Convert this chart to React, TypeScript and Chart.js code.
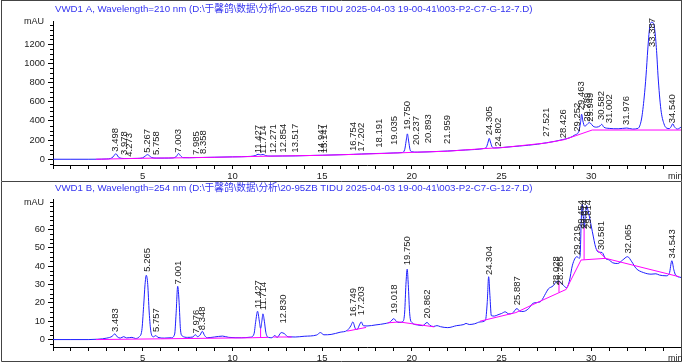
import React, { useEffect, useRef } from 'react';
import { Chart, registerables } from 'chart.js';

Chart.register(...registerables);

// ---------- DATA ----------
const titleA = 'VWD1 A, Wavelength=210 nm (D:\\于馨鸽\\数据\\分析\\20-95ZB TIDU 2025-04-03 19-00-41\\003-P2-C7-G-12-7.D)';
const titleB = 'VWD1 B, Wavelength=254 nm (D:\\于馨鸽\\数据\\分析\\20-95ZB TIDU 2025-04-03 19-00-41\\003-P2-C7-G-12-7.D)';

const xTickLabels = [5, 10, 15, 20, 25, 30];
const yTickLabelsA = [0, 200, 400, 600, 800, 1000, 1200];
const yTickLabelsB = [0, 10, 20, 30, 40, 50, 60];

// signal A (210 nm): [time min, mAU]
const traceA: [number, number][] = [
  [0, 0], [1, 0], [2, 0], [2.4, 0.5], [3.0, 3], [3.2, 8], [3.35, 25], [3.45, 50], [3.5, 58], [3.57, 45], [3.65, 22],
  [3.8, 10], [4.0, 8], [4.3, 8], [4.7, 9], [5.0, 15], [5.15, 35], [5.27, 48], [5.38, 35], [5.5, 18], [5.75, 12],
  [6.2, 12], [6.7, 14], [6.88, 30], [7.0, 60], [7.1, 38], [7.25, 17], [7.6, 16], [8.0, 18], [8.4, 19], [9, 21],
  [10, 25], [11, 30], [11.3, 40], [11.43, 52], [11.57, 46], [11.71, 50], [11.85, 38], [12.1, 33], [12.8, 34],
  [13.5, 35], [14.5, 40], [15, 42], [16, 47], [16.75, 51], [17.2, 55], [18, 60], [18.5, 62], [19.0, 66],
  [19.45, 70], [19.6, 100], [19.68, 190], [19.75, 265], [19.82, 190], [19.9, 100], [20.0, 78], [20.3, 74],
  [20.9, 77], [22, 86], [23, 97], [24, 112], [24.15, 125], [24.25, 180], [24.31, 218], [24.38, 180],
  [24.47, 130], [24.6, 118], [25, 122], [26, 138], [27, 157], [27.5, 172], [28, 188], [28.4, 205], [28.8, 225],
  [29.1, 255], [29.3, 290], [29.4, 380], [29.46, 470], [29.53, 400], [29.63, 345], [29.75, 360], [29.88, 382],
  [29.95, 378], [30.1, 345], [30.3, 335], [30.5, 350], [30.58, 365], [30.7, 335], [31.0, 322], [31.5, 318],
  [31.98, 326], [32.3, 315], [32.6, 322], [32.8, 420], [32.95, 650], [33.05, 870], [33.15, 1150], [33.25, 1370],
  [33.35, 1430], [33.45, 1425], [33.55, 1330], [33.65, 1100], [33.72, 870], [33.88, 520], [34.05, 370],
  [34.2, 325], [34.35, 320], [34.45, 340], [34.54, 370], [34.63, 340], [34.8, 315], [35, 335],
];

// integration baseline A (null = gap)
const baselineA: [number, number | null][] = [
  [2.4, 0], [5, 10], [8, 17], [10, 24], [12, 32], [15, 41], [18, 58], [19.5, 68], [20.2, 73], [22, 84],
  [24, 111], [25, 121], [27.5, 170], [28.5, 205], [29.2, 250], [30.05, 305], [35, 305],
];

const peakTimesA = [3.498, 3.978, 4.273, 5.267, 5.758, 7.003, 7.985, 8.358, 11.427, 11.714, 12.271, 12.854, 13.517,
  14.947, 15.141, 16.754, 17.202, 18.191, 19.035, 19.750, 20.237, 20.893, 21.959, 24.305, 24.802, 27.521, 28.426,
  29.252, 29.463, 29.789, 29.949, 30.582, 31.002, 31.976, 33.387, 34.540];
const peakHeightsA = [58, 24, 6, 48, 24, 48, 24, 34, 42, 35, 42, 48, 48,
  42, 42, 66, 58, 100, 128, 285, 128, 146, 138, 230, 110, 215, 198,
  267, 490, 371, 371, 389, 355, 337, 1432, 355];

// signal B (254 nm)
const traceB: [number, number][] = [
  [0, 0], [1, 0], [2, 0], [2.5, 0.2], [3.0, 0.8], [3.3, 1.8], [3.44, 3.1], [3.58, 1.5], [3.75, 0.8], [3.94, 1.6],
  [4.1, 0.9], [4.4, 1.2], [4.6, 0.6], [4.8, 1.5], [4.95, 5], [5.05, 18], [5.13, 30], [5.2, 35], [5.28, 30],
  [5.36, 15], [5.46, 4], [5.6, 1.5], [5.73, 2.2], [5.85, 1.2], [6.2, 0.8], [6.6, 1.0], [6.78, 3], [6.86, 14],
  [6.95, 29], [7.03, 20], [7.1, 6], [7.2, 2], [7.5, 1.2], [7.8, 1.4], [7.93, 2.7], [8.05, 1.6], [8.2, 2.5],
  [8.32, 4.5], [8.45, 2.2], [8.6, 1.0], [9.0, 1.4], [9.45, 1.9], [9.8, 1.2], [10.5, 1.0], [11.0, 1.3], [11.2, 3],
  [11.3, 10], [11.4, 15.4], [11.5, 10], [11.57, 6], [11.64, 10], [11.7, 14], [11.78, 10], [11.86, 4], [12.0, 1.2],
  [12.2, 1.0], [12.35, 2.2], [12.5, 1.2], [12.72, 3.8], [12.9, 3.2], [13.1, 1.5], [13.5, 1.4], [14.0, 1.8],
  [14.7, 2.5], [14.9, 3.8], [15.1, 2.6], [15.5, 2.8], [16.0, 4.0], [16.4, 5.0], [16.6, 7.5], [16.71, 9.6],
  [16.85, 6], [16.95, 5.5], [17.08, 8], [17.18, 9.6], [17.3, 7.5], [17.5, 7.4], [18.0, 8.0], [18.5, 8.7],
  [18.8, 9.6], [18.99, 11.4], [19.15, 9.8], [19.3, 9.3], [19.5, 9.8], [19.6, 15], [19.67, 30], [19.74, 38.3],
  [19.8, 30], [19.88, 14], [20.0, 9.3], [20.3, 8.0], [20.6, 7.6], [20.85, 9.3], [21.0, 7.8], [21.2, 7.1],
  [21.4, 7.6], [21.6, 7.0], [22.0, 6.5], [22.5, 7.6], [22.9, 8.2], [23.02, 8.8], [23.2, 8.2], [23.5, 8.6],
  [23.8, 9.6], [24.1, 10.5], [24.2, 20], [24.28, 34.2], [24.35, 24], [24.43, 13], [24.6, 12.8], [24.8, 13.5],
  [25.0, 14.2], [25.2, 15.1], [25.4, 14.0], [25.6, 14.3], [25.86, 16.9], [26.0, 15.5], [26.2, 15.3], [26.5, 16.8],
  [26.73, 19.6], [27.0, 20.2], [27.2, 20.9], [27.45, 25], [27.6, 27.5], [27.88, 29.3], [28.05, 31.5],
  [28.15, 31.8], [28.3, 31], [28.45, 29.5], [28.62, 28.2], [28.77, 31.5], [28.95, 40.5], [29.2, 45.1],
  [29.33, 44.2], [29.38, 46], [29.44, 65], [29.5, 73.5], [29.56, 66], [29.61, 61], [29.67, 68], [29.74, 73],
  [29.8, 71], [29.88, 67.6], [30.06, 58.7], [30.25, 50], [30.4, 47.6], [30.6, 47.4], [30.78, 44.2], [31.0, 43.3],
  [31.19, 41.8], [31.47, 41.4], [31.75, 43.3], [32.02, 45.1], [32.26, 42.3], [32.5, 38.7], [32.9, 36.5],
  [33.33, 35.6], [33.6, 35.8], [33.8, 35.1], [34.17, 34.7], [34.35, 36], [34.49, 42.9], [34.6, 38], [34.7, 35.1],
  [35, 33.8],
];

const baselineB: [number, number | null][] = [
  [2.4, 0], [6, 0.4], [11.1, 1.0], [12.0, 1.2], [12.0, null],
  [11.57, 1.1], [11.57, 6], [11.57, null],
  [12.27, 1.4], [13.3, 1.4], [13.3, null],
  [16.4, 4.6], [17.45, 6.6], [17.45, null],
  [18.65, 9.1], [19.3, 9.6], [21.25, 6.9], [21.25, null],
  [23.8, 10], [25.8, 14.7], [27.0, 20.2], [28.6, 27.3], [29.43, 43.3], [30.8, 44.2], [34.9, 34.2], [34.9, null],
  [28.2, 25.7], [28.2, 31.5], [28.2, null],
  [29.6, 43.5], [29.6, 61], [29.6, null],
  [30.3, 49], [30.8, 44.2],
];

const peakTimesB = [3.483, 5.265, 5.757, 7.001, 7.976, 8.348, 11.427, 11.714, 12.830, 16.749, 17.203, 19.018,
  19.750, 20.862, 24.304, 25.887, 28.028, 28.265, 29.219, 29.454, 29.614, 29.814, 30.581, 32.065, 34.543];
const peakHeightsB = [3.1, 35.8, 3.1, 28.9, 2.2, 4, 15.8, 14.9, 7.6, 11.2, 12.2, 13.1,
  39.4, 10.4, 34, 17.6, 28.5, 28.5, 44.9, 73.5, 73, 73, 47.6, 45.8, 43.1];

// ---------- CHART ----------
const FONT = '"Liberation Sans", Arial, "Noto Sans CJK SC", sans-serif';

type PanelSpec = {
  title: string;
  trace: [number, number][];
  baseline: [number, number | null][];
  peakTimes: number[];
  peakHeights: number[];
  yMin: number;
  yMax: number;
  yMinor: number;
  yLabels: number[];
  padTop: number;
  titleY: number;
  mauY: number;
  frameTop: boolean;
  frameBottom: number;
};

const specA: PanelSpec = {
  title: titleA, trace: traceA, baseline: baselineA, peakTimes: peakTimesA, peakHeights: peakHeightsA,
  yMin: -60, yMax: 1443, yMinor: 50, yLabels: yTickLabelsA, padTop: 21, titleY: 9, mauY: 22,
  frameTop: true, frameBottom: 181.5,
};
const specB: PanelSpec = {
  title: titleB, trace: traceB, baseline: baselineB, peakTimes: peakTimesB, peakHeights: peakHeightsB,
  yMin: -4.04, yMax: 76.5, yMinor: 2.5, yLabels: yTickLabelsB, padTop: 17, titleY: 6, mauY: 21,
  frameTop: false, frameBottom: 179.5,
};

function isLabel(v: number, list: number[]) {
  return list.some((l) => Math.abs(l - v) < 1e-6);
}

function buildConfig(p: PanelSpec): any {
  const decor = {
    id: 'decor',
    afterDraw(chart: any) {
      const ctx = chart.ctx as CanvasRenderingContext2D;
      const xs = chart.scales.x;
      const ys = chart.scales.y;
      const area = chart.chartArea;
      ctx.save();
      // frame
      ctx.strokeStyle = '#444';
      ctx.lineWidth = 1;
      ctx.beginPath();
      if (p.frameTop) {
        ctx.moveTo(1.5, 0.5);
        ctx.lineTo(681.5, 0.5);
      }
      ctx.moveTo(1.5, 0);
      ctx.lineTo(1.5, p.frameBottom);
      ctx.lineTo(681.5, p.frameBottom);
      ctx.lineTo(681.5, 0);
      ctx.stroke();
      // title
      ctx.fillStyle = '#3434f0';
      ctx.font = `9.7px ${FONT}`;
      ctx.textAlign = 'left';
      ctx.textBaseline = 'middle';
      ctx.fillText(p.title, 55, p.titleY);
      // axis unit labels
      ctx.fillStyle = '#222';
      ctx.font = `9px ${FONT}`;
      ctx.textAlign = 'right';
      ctx.fillText('mAU', 44, p.mauY);
      ctx.textAlign = 'left';
      ctx.fillText('min', 668, area.bottom + 12);
      // minor y ticks
      ctx.strokeStyle = '#000';
      ctx.beginPath();
      const start = Math.ceil(p.yMin / p.yMinor) * p.yMinor;
      for (let v = start; v <= p.yMax; v += p.yMinor) {
        const vv = Math.round(v * 1000) / 1000;
        if (isLabel(vv, p.yLabels)) continue;
        const y = Math.round(ys.getPixelForValue(vv)) + 0.5;
        ctx.moveTo(area.left - 3, y);
        ctx.lineTo(area.left, y);
      }
      ctx.stroke();
      // peak labels
      ctx.fillStyle = '#222';
      ctx.font = `9.5px ${FONT}`;
      ctx.textAlign = 'left';
      ctx.textBaseline = 'middle';
      p.peakTimes.forEach((t, i) => {
        const txt = t.toFixed(3);
        const w = ctx.measureText(txt).width;
        const x = xs.getPixelForValue(t);
        const yb = Math.max(ys.getPixelForValue(p.peakHeights[i]) - 2, 18 + w);
        ctx.save();
        ctx.translate(x, yb);
        ctx.rotate(-Math.PI / 2);
        ctx.fillText(txt, 0, 0);
        ctx.restore();
      });
      ctx.restore();
    },
  };

  return {
    type: 'line',
    plugins: [decor],
    data: {
      datasets: [
        {
          label: 'baseline',
          data: p.baseline.map(([x, y]) => ({ x, y })),
          borderColor: 'rgb(255,0,255)',
          borderWidth: 1,
          pointRadius: 0,
          tension: 0,
          spanGaps: false,
          fill: false,
        },
        {
          label: 'signal',
          data: p.trace.map(([x, y]) => ({ x, y })),
          borderColor: 'rgb(30,30,255)',
          borderWidth: 1,
          pointRadius: 0,
          cubicInterpolationMode: 'monotone',
          fill: false,
        },
      ],
    },
    options: {
      animation: false,
      responsive: false,
      devicePixelRatio: 1,
      events: [],
      layout: { padding: { top: p.padTop, right: 2, left: 0, bottom: 0 } },
      plugins: { legend: { display: false }, tooltip: { enabled: false }, title: { display: false } },
      scales: {
        x: {
          type: 'linear',
          min: 0,
          max: 35,
          afterFit: (s: any) => { s.height = 17; },
          border: { display: true, color: '#000', width: 1 },
          grid: { drawOnChartArea: false, drawTicks: true, tickLength: 4, color: '#000' },
          ticks: {
            stepSize: 1,
            autoSkip: false,
            maxRotation: 0,
            padding: 2,
            color: '#222',
            font: { family: FONT, size: 9.5 },
            callback: (v: number) => (isLabel(v, xTickLabels) ? String(v) : ''),
          },
        },
        y: {
          type: 'linear',
          min: p.yMin,
          max: p.yMax,
          afterFit: (s: any) => { s.width = 53; },
          border: { display: true, color: '#000', width: 1 },
          grid: {
            drawOnChartArea: false,
            drawTicks: true,
            tickLength: 5,
            color: (c: any) => (c.tick && isLabel(c.tick.value, p.yLabels) ? '#000' : 'rgba(0,0,0,0)'),
          },
          ticks: {
            stepSize: p.yMinor,
            autoSkip: false,
            padding: 3,
            color: '#222',
            font: { family: FONT, size: 9.3 },
            callback: (v: number) => (isLabel(v, p.yLabels) ? String(v) : ''),
          },
        },
      },
    },
  };
}

function Panel({ spec, top }: { spec: PanelSpec; top: number }) {
  const ref = useRef<HTMLCanvasElement>(null);
  useEffect(() => {
    const chart = new Chart(ref.current as HTMLCanvasElement, buildConfig(spec));
    return () => chart.destroy();
  }, [spec]);
  return (
    <div style={{ position: 'absolute', left: 0, top, width: 683, height: 182 }}>
      <canvas ref={ref} width={683} height={182} style={{ display: 'block' }} />
    </div>
  );
}

export default function App() {
  return (
    <div style={{ position: 'absolute', left: 0, top: 0, width: 683, height: 364, background: '#fff', overflow: 'hidden' }}>
      <Panel spec={specA} top={0} />
      <Panel spec={specB} top={182} />
    </div>
  );
}
